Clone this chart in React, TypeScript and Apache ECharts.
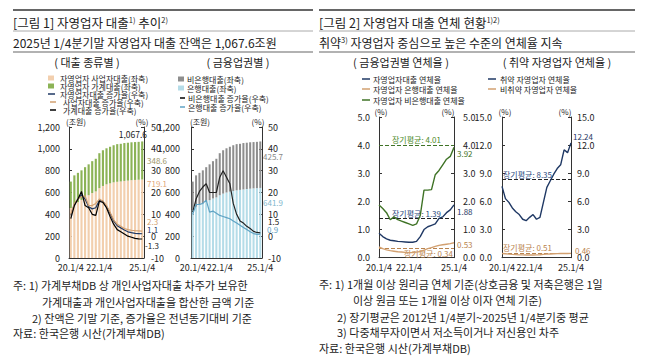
import React, { useEffect, useRef } from "react";
import * as echarts from "echarts";

const FF = '"Noto Sans CJK KR", "Noto Sans", sans-serif';

const quarters = [
  "20.1/4", "20.2/4", "20.3/4", "20.4/4", "21.1/4", "21.2/4", "21.3/4", "21.4/4",
  "22.1/4", "22.2/4", "22.3/4", "22.4/4", "23.1/4", "23.2/4", "23.3/4", "23.4/4",
  "24.1/4", "24.2/4", "24.3/4", "24.4/4", "25.1/4",
];
const shownTicks = ["20.1/4", "22.1/4", "25.1/4"];

// Panel 1: by loan type (조원, %)
const bizLoan = [458, 490, 512, 532, 556, 575, 595, 610, 640, 660, 675, 684, 693, 698, 701, 706, 709, 713, 715, 717, 719.1];
const hhLoan = [242, 267, 268, 271, 276, 283, 292, 299, 320, 327, 330, 335, 340, 345, 345, 347, 347, 347, 347, 347, 348.6];
const totalGrowth = [9.5, 14.5, 17, 19, 17, 13.5, 12.5, 13, 16.5, 16, 13.5, 10.5, 7, 4.8, 3.8, 2.8, 2, 1.6, 1.3, 1.2, 1.1];
const bizGrowth = [10, 15, 17, 18, 18.5, 14, 14, 15, 17, 16, 14, 11, 7.5, 5.5, 4.5, 3.5, 3, 2.7, 2.5, 2.4, 2.3];
const hhGrowth = [8, 14, 17, 20.5, 14, 13, 10, 9.5, 16, 15.5, 13, 9, 5.5, 3, 2, 1, 0, -0.5, -1, -1.2, -1.3];
const totalBalance = "1,067.6";

// Panel 2: by sector (조원, %)
const bankLoan = [440, 470, 485, 500, 515, 530, 545, 555, 575, 590, 600, 608, 614, 620, 624, 628, 632, 635, 638, 640, 641.9];
const nonBankLoan = [260, 287, 295, 303, 317, 328, 342, 354, 385, 397, 405, 411, 419, 423, 422, 425, 424, 425, 424, 424, 425.7];
const nonBankGrowth = [11, 17, 20.5, 22.5, 24, 20, 20, 20, 27, 30, 27, 24, 15, 10, 7, 6, 4.5, 3.5, 2.2, 1.7, 1.5];
const bankGrowth = [10, 14.5, 14.5, 15, 16.5, 11, 11.5, 10.5, 9.5, 9, 8.5, 8, 7, 6, 5, 4, 3, 2, 1.2, 0.8, 0.9];

// Panel 3: delinquency by sector (%)
const totalDelinq = [0.87, 0.75, 0.67, 0.62, 0.6, 0.58, 0.57, 0.56, 0.55, 0.55, 0.58, 0.75, 1.0, 1.1, 1.15, 1.2, 1.4, 1.45, 1.6, 1.7, 1.88];
const bankDelinq = [0.38, 0.32, 0.28, 0.25, 0.23, 0.21, 0.2, 0.19, 0.18, 0.18, 0.2, 0.22, 0.27, 0.32, 0.36, 0.4, 0.44, 0.46, 0.48, 0.5, 0.53];
const nonBankDelinq = [1.87, 1.75, 1.6, 1.35, 1.45, 1.35, 1.3, 1.25, 1.2, 1.15, 1.2, 1.5, 2.4, 2.4, 2.42, 2.95, 3.1, 3.3, 3.5, 3.6, 3.92];
const avgTotal = 1.39;
const avgBank = 0.34;
const avgNonBank = 4.01;

// Panel 4: vulnerable borrowers (%)
const vulnDelinq = [7.6, 6.3, 5.9, 5.3, 4.9, 4.6, 4.1, 3.95, 4.3, 4.6, 4.1, 4.3, 5.9, 7.5, 8.2, 8.9, 9.5, 9.9, 11.5, 11.2, 12.24];
const nonVulnDelinq = [0.45, 0.42, 0.38, 0.35, 0.33, 0.3, 0.3, 0.28, 0.28, 0.28, 0.3, 0.32, 0.35, 0.38, 0.4, 0.42, 0.43, 0.44, 0.45, 0.45, 0.46];
const avgVuln = 8.35;
const avgNonVuln = 0.51;

const C = {
  tan: "#F2CFAE",
  green: "#8CB356",
  navy: "#1F3864",
  tanLine: "#D2A070",
  gray: "#8E8E8E",
  lightBlue: "#B5DCE8",
  blueLine: "#5FA3C4",
  darkGreen: "#3F7326",
  brown: "#B9834E",
};

const last = (a: number[]) => a[a.length - 1];
const fmt1 = (v: number) => v.toFixed(1);
const fmtComma = (v: number) => v.toLocaleString("en-US");

function txt(x: number, y: number, text: string, o: any = {}) {
  return {
    type: "text",
    x,
    y,
    silent: true,
    style: {
      text,
      fill: o.fill || "#222",
      font: `${o.weight || "normal"} ${o.size || 9}px ${FF}`,
      align: o.align || "left",
      textAlign: o.align || "left",
      verticalAlign: "middle",
      textVerticalAlign: "middle",
      rich: o.rich,
    },
  };
}
function hline(x1: number, x2: number, y: number, color: string, w = 1) {
  return { type: "line", silent: true, shape: { x1, y1: y, x2, y2: y }, style: { stroke: color, lineWidth: w } };
}
function legRect(x: number, y: number, color: string, label: string, tx: number) {
  return [
    { type: "rect", silent: true, shape: { x, y: y - 2.5, width: 6, height: 5 }, style: { fill: color } },
    txt(tx, y, label, { size: 8 }),
  ];
}
function legLine(x1: number, x2: number, y: number, color: string, label: string, tx: number) {
  return [hline(x1, x2, y, color, 1.5), txt(tx, y, label, { size: 8 })];
}

function xAxis(gridIndex: number, boundaryGap: boolean) {
  return {
    gridIndex,
    type: "category",
    data: quarters,
    boundaryGap,
    axisLine: { lineStyle: { color: "#333", width: 1 } },
    axisTick: { show: false },
    axisLabel: {
      interval: (_i: number, v: string) => shownTicks.includes(v),
      fontSize: 9,
      fontFamily: FF,
      color: "#222",
      margin: 5,
    },
  };
}
function yAxis(gridIndex: number, position: string, min: number, max: number, interval: number, formatter: any, margin: number) {
  return {
    gridIndex,
    type: "value",
    position,
    min,
    max,
    interval,
    axisLine: { show: true, lineStyle: { color: "#333", width: 1 } },
    axisTick: { show: true, inside: true, length: 3, lineStyle: { color: "#333" } },
    splitLine: { show: false },
    axisLabel: { fontSize: 9, fontFamily: FF, color: "#222", margin, formatter },
  };
}
function line(name: string, data: number[], x: number, y: number, color: string, width = 1.2, extra: any = {}) {
  return {
    name,
    type: "line",
    data,
    xAxisIndex: x,
    yAxisIndex: y,
    symbol: "none",
    lineStyle: { color, width },
    itemStyle: { color },
    z: 5,
    ...extra,
  };
}
function avgLine(value: number, color: string, position: string, labelColor: string) {
  return {
    symbol: "none",
    silent: true,
    lineStyle: { type: "dashed", color, width: 1 },
    label: {
      formatter: `장기평균: ${value.toFixed(2)}`,
      position,
      color: labelColor,
      fontSize: 8,
      fontFamily: FF,
      distance: 1,
    },
    data: [{ yAxis: value }],
  };
}

export default function App() {
  const ref = useRef<HTMLDivElement>(null);
  useEffect(() => {
    if (!ref.current) return;
    const chart = echarts.init(ref.current, null, { renderer: "svg" });
    const sup = { sup: { fontSize: 7.5, verticalAlign: "top", fontFamily: FF, fill: "#222" } };
    const vs = 8; // value label font size
    const graphic: any[] = [
      // Header figure 1
      hline(13, 313, 10, "#333", 1.5),
      txt(13, 22, "[그림 1] 자영업자 대출{sup|1)} 추이{sup|2)}", { size: 12.5, rich: sup }),
      hline(13, 313, 31, "#aaa", 1),
      txt(13, 42, "2025년 1/4분기말 자영업자 대출 잔액은 1,067.6조원", { size: 12 }),
      hline(13, 313, 52, "#999", 1.5),
      // Header figure 2
      hline(319, 635, 10, "#333", 1.5),
      txt(319, 22, "[그림 2] 자영업자 대출 연체 현황{sup|1)2)}", { size: 12.5, rich: sup }),
      hline(319, 635, 31, "#aaa", 1),
      txt(319, 42, "취약{sup|3)} 자영업자 중심으로 높은 수준의 연체율 지속", { size: 12, rich: sup }),
      hline(319, 635, 52, "#999", 1.5),
      // Panel titles
      txt(87, 62, "( 대출 종류별 )", { size: 11, align: "center" }),
      txt(238, 62, "( 금융업권별 )", { size: 11, align: "center" }),
      txt(401, 62, "( 금융업권별 연체율 )", { size: 11, align: "center" }),
      txt(557, 62, "( 취약 자영업자 연체율 )", { size: 11, align: "center" }),
      // Panel 1 legend
      ...legRect(48, 78, C.tan, "자영업자 사업자대출(좌축)", 60),
      ...legRect(48, 86, C.green, "자영업자 가계대출(좌축)", 60),
      ...legLine(48, 55, 94, C.navy, "자영업자대출 증가율(우축)", 60),
      ...legLine(50, 56, 102, C.tanLine, "사업자대출 증가율(우축)", 63),
      ...legLine(50, 56, 110, "#000", "가계대출 증가율(우축)", 63),
      // Panel 2 legend
      ...legRect(178, 79, C.gray, "비은행대출(좌축)", 187),
      ...legRect(178, 88, C.lightBlue, "은행대출(좌축)", 187),
      ...legLine(180, 185, 98, "#000", "비은행대출 증가율(우축)", 188),
      ...legLine(180, 185, 107, C.blueLine, "은행대출 증가율(우축)", 188),
      // Panel 3 legend
      ...legLine(362, 370, 79, C.navy, "자영업자대출 연체율", 373),
      ...legLine(362, 370, 89, C.tanLine, "자영업자 은행대출 연체율", 373),
      ...legLine(362, 370, 100, C.darkGreen, "자영업자 비은행대출 연체율", 373),
      // Panel 4 legend
      ...legLine(488, 496, 79, C.navy, "취약 자영업자 연체율", 500),
      ...legLine(488, 496, 89, C.tanLine, "비취약 자영업자 연체율", 500),
      // Units
      txt(76, 121, "(조원)", { size: 8, align: "center" }),
      txt(142, 121, "(%)", { size: 8, align: "center" }),
      txt(200, 121, "(조원)", { size: 8, align: "center" }),
      txt(258, 121, "(%)", { size: 8, align: "center" }),
      txt(381, 111, "(%)", { size: 8, align: "center" }),
      txt(448, 111, "(%)", { size: 8, align: "center" }),
      txt(505, 111, "(%)", { size: 8, align: "center" }),
      txt(565, 111, "(%)", { size: 8, align: "center" }),
      // Panel 1 value labels
      txt(147, 134, totalBalance, { size: 8.5, align: "right" }),
      txt(147, 160, hhLoan[20].toFixed(1), { size: vs, fill: "#9C9466" }),
      txt(147, 183, bizLoan[20].toFixed(1), { size: vs, fill: "#E2A678" }),
      txt(147, 221, last(bizGrowth).toFixed(1), { size: vs, fill: "#D2A070" }),
      txt(147, 229, last(totalGrowth).toFixed(1), { size: vs, fill: "#1F3864" }),
      txt(145, 245, last(hhGrowth).toFixed(1), { size: vs, fill: "#222" }),
      // Panel 2 value labels
      txt(263, 156, last(nonBankLoan).toFixed(1), { size: vs, fill: "#888" }),
      txt(263, 202, last(bankLoan).toFixed(1), { size: vs, fill: "#7FB7CC" }),
      txt(268, 221, last(nonBankGrowth).toFixed(1), { size: vs, fill: "#222" }),
      txt(267, 229, last(bankGrowth).toFixed(1), { size: vs, fill: C.blueLine }),
      // Panel 3 value labels
      txt(457, 153, last(nonBankDelinq).toFixed(2), { size: vs, fill: C.darkGreen }),
      txt(457, 211, last(totalDelinq).toFixed(2), { size: vs, fill: C.navy }),
      txt(457, 244, last(bankDelinq).toFixed(2), { size: vs, fill: C.brown }),
      // Panel 4 value labels
      txt(573, 136, last(vulnDelinq).toFixed(2), { size: vs, fill: C.navy }),
      txt(575, 250, last(nonVulnDelinq).toFixed(2), { size: vs, fill: C.brown }),
      // Footnotes left
      txt(13, 285, "주: 1) 가계부채DB 상 개인사업자대출 차주가 보유한", { size: 11 }),
      txt(42, 302, "가계대출과 개인사업자대출을 합산한 금액 기준", { size: 11 }),
      txt(32, 318, "2) 잔액은 기말 기준, 증가율은 전년동기대비 기준", { size: 11 }),
      txt(13, 333, "자료: 한국은행 시산(가계부채DB)", { size: 11 }),
      // Footnotes right
      txt(319, 284, "주: 1) 1개월 이상 원리금 연체 기준(상호금융 및 저축은행은 1일", { size: 11 }),
      txt(353, 300, "이상 원금 또는 1개월 이상 이자 연체 기준)", { size: 11 }),
      txt(337, 317, "2) 장기평균은 2012년 1/4분기~2025년 1/4분기중 평균", { size: 11 }),
      txt(337, 332, "3) 다중채무자이면서 저소득이거나 저신용인 차주", { size: 11 }),
      txt(319, 348, "자료: 한국은행 시산(가계부채DB)", { size: 11 }),
    ];

    const option: any = {
      animation: false,
      backgroundColor: "#fff",
      textStyle: { fontFamily: FF },
      grid: [
        { left: 69, top: 127, width: 75, height: 131 },
        { left: 191, top: 127, width: 71, height: 131 },
        { left: 379, top: 117, width: 75, height: 140.7 },
        { left: 502, top: 117, width: 69, height: 140.7 },
      ],
      xAxis: [xAxis(0, true), xAxis(1, true), xAxis(2, false), xAxis(3, false)],
      yAxis: [
        yAxis(0, "left", 0, 1200, 200, fmtComma, 9),
        yAxis(0, "right", -10, 50, 10, undefined, 7),
        yAxis(1, "left", 0, 1200, 200, fmtComma, 11),
        yAxis(1, "right", -10, 50, 10, undefined, 6),
        yAxis(2, "left", 0, 5, 1, fmt1, 9),
        yAxis(2, "right", 0, 5, 1, fmt1, 9),
        yAxis(3, "left", 0, 15, 3, fmt1, 10),
        yAxis(3, "right", 0, 15, 3, fmt1, 6),
      ],
      series: [
        { name: "자영업자 사업자대출", type: "bar", stack: "p1", data: bizLoan, xAxisIndex: 0, yAxisIndex: 0, barCategoryGap: "40%", itemStyle: { color: C.tan } },
        { name: "자영업자 가계대출", type: "bar", stack: "p1", data: hhLoan, xAxisIndex: 0, yAxisIndex: 0, barCategoryGap: "40%", itemStyle: { color: C.green } },
        line("자영업자대출 증가율", totalGrowth, 0, 1, C.navy),
        line("사업자대출 증가율", bizGrowth, 0, 1, C.tanLine),
        line("가계대출 증가율", hhGrowth, 0, 1, "#000"),

        { name: "은행대출", type: "bar", stack: "p2", data: bankLoan, xAxisIndex: 1, yAxisIndex: 2, barCategoryGap: "40%", itemStyle: { color: C.lightBlue } },
        { name: "비은행대출", type: "bar", stack: "p2", data: nonBankLoan, xAxisIndex: 1, yAxisIndex: 2, barCategoryGap: "40%", itemStyle: { color: C.gray } },
        line("비은행대출 증가율", nonBankGrowth, 1, 3, "#222"),
        line("은행대출 증가율", bankGrowth, 1, 3, C.blueLine),

        line("자영업자대출 연체율", totalDelinq, 2, 4, C.navy, 1.4, { markLine: avgLine(avgTotal, "#222", "insideMiddleTop", "#2B4A80") }),
        line("자영업자 은행대출 연체율", bankDelinq, 2, 4, C.tanLine, 1.4, { markLine: avgLine(avgBank, C.brown, "insideEndBottom", C.brown) }),
        line("자영업자 비은행대출 연체율", nonBankDelinq, 2, 4, C.darkGreen, 1.4, { markLine: avgLine(avgNonBank, C.darkGreen, "insideMiddleTop", "#4C8A2A") }),

        line("취약 자영업자 연체율", vulnDelinq, 3, 6, C.navy, 1.4, { markLine: avgLine(avgVuln, "#222", "insideStartTop", "#2B4A80") }),
        line("비취약 자영업자 연체율", nonVulnDelinq, 3, 6, C.tanLine, 1.4, { markLine: avgLine(avgNonVuln, C.brown, "insideStartTop", C.brown) }),
      ],
      graphic,
    };
    chart.setOption(option);
    return () => chart.dispose();
  }, []);
  return <div ref={ref} style={{ position: "absolute", left: 0, top: 0, width: 658, height: 358, background: "#fff" }} />;
}
